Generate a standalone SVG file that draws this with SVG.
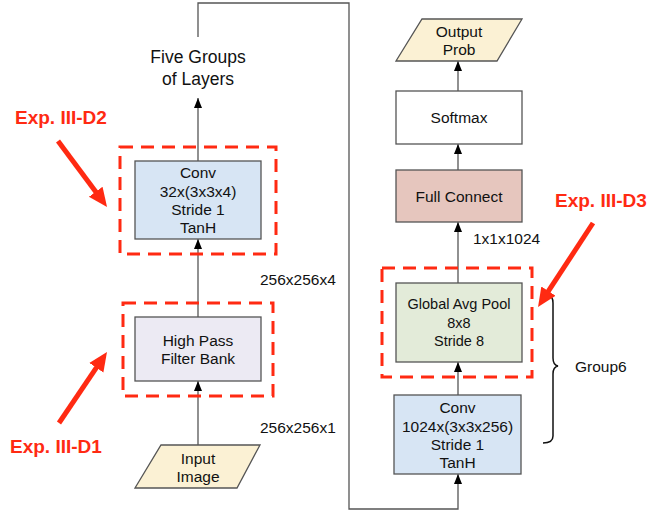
<svg xmlns="http://www.w3.org/2000/svg" width="670" height="512" viewBox="0 0 670 512">
<style>
  .box { stroke: #555; stroke-width: 1.3; }
  .t { font-family: "Liberation Sans", Arial, sans-serif; font-size: 15.5px; fill: #111; text-anchor: middle; }
  .ts { font-family: "Liberation Sans", Arial, sans-serif; font-size: 14.5px; fill: #111; text-anchor: middle; }
  .tl { font-family: "Liberation Sans", Arial, sans-serif; font-size: 15.5px; fill: #111; }
  .big { font-family: "Liberation Sans", Arial, sans-serif; font-size: 17.5px; fill: #111; text-anchor: middle; }
  .red { font-family: "Liberation Sans", Arial, sans-serif; font-size: 19px; font-weight: bold; fill: #ff2a12; }
  .dash { fill: none; stroke: #ff2a12; stroke-width: 3; stroke-dasharray: 13 8; }
  .conn { fill: none; stroke: #555; stroke-width: 1.3; }
  .rarrow { stroke: #ff2a12; stroke-width: 5; fill: none; }
</style>
<defs>
  <marker id="ah" markerUnits="userSpaceOnUse" markerWidth="12" markerHeight="10" viewBox="0 -5 12 10" refX="10" refY="0" orient="auto">
    <path d="M0,-4 L10,0 L0,4 z" fill="#000"/>
  </marker>
  <marker id="rah" markerUnits="userSpaceOnUse" markerWidth="22" markerHeight="22" viewBox="0 -11 22 22" refX="1" refY="0" orient="auto">
    <path d="M0,-8.5 L19,0 L0,8.5 z" fill="#ff2a12"/>
  </marker>
</defs>

<g id="connectors">
  <line class="conn" x1="198" y1="161" x2="198" y2="98" marker-end="url(#ah)"/>
  <line class="conn" x1="198" y1="317" x2="198" y2="239" marker-end="url(#ah)"/>
  <line class="conn" x1="198" y1="445" x2="198" y2="381" marker-end="url(#ah)"/>
  <polyline class="conn" points="198,37 198,3 349,3 349,509 458,509 458,474" marker-end="url(#ah)"/>
  <line class="conn" x1="458" y1="395" x2="458" y2="362" marker-end="url(#ah)"/>
  <line class="conn" x1="458" y1="283" x2="458" y2="222" marker-end="url(#ah)"/>
  <line class="conn" x1="458" y1="170" x2="458" y2="144" marker-end="url(#ah)"/>
  <line class="conn" x1="458" y1="91" x2="458" y2="61" marker-end="url(#ah)"/>
</g>

<g id="five-groups">
  <text class="big" x="198" y="63">Five Groups</text>
  <text class="big" x="198" y="85">of Layers</text>
</g>

<g id="conv1">
  <rect class="box" x="135" y="161" width="126" height="78" fill="#d7e5f4"/>
  <text class="t" x="198" y="178">Conv</text>
  <text class="t" x="198" y="197">32x(3x3x4)</text>
  <text class="t" x="198" y="215">Stride 1</text>
  <text class="t" x="198" y="233">TanH</text>
</g>

<g id="hpf">
  <rect class="box" x="135" y="317" width="126" height="64" fill="#eceaf3"/>
  <text class="t" x="198" y="346">High Pass</text>
  <text class="t" x="198" y="364">Filter Bank</text>
</g>

<g id="input">
  <polygon class="box" points="161,445 260,445 237,488 135,488" fill="#fbf1d4"/>
  <text class="t" x="198" y="464">Input</text>
  <text class="t" x="198" y="482">Image</text>
</g>

<g id="labels-left">
  <text class="tl" x="260" y="285">256x256x4</text>
  <text class="tl" x="260" y="433">256x256x1</text>
</g>

<g id="output">
  <polygon class="box" points="422,19 522,19 497,61 396,61" fill="#fbf1d4"/>
  <text class="t" x="459" y="37">Output</text>
  <text class="t" x="459" y="55">Prob</text>
</g>

<g id="softmax">
  <rect class="box" x="396" y="91" width="126" height="53" fill="#ffffff"/>
  <text class="t" x="459" y="123">Softmax</text>
</g>

<g id="fc">
  <rect class="box" x="396" y="170" width="126" height="52" fill="#e6c6be"/>
  <text class="t" x="459" y="202">Full Connect</text>
</g>

<g id="fc-label">
  <text class="tl" x="473" y="244">1x1x1024</text>
</g>

<g id="gap">
  <rect class="box" x="396" y="283" width="126" height="79" fill="#e3ebd9"/>
  <text class="ts" x="459" y="309">Global Avg Pool</text>
  <text class="ts" x="459" y="328">8x8</text>
  <text class="ts" x="459" y="346">Stride 8</text>
</g>

<g id="conv6">
  <rect class="box" x="394" y="395" width="127" height="79" fill="#d7e5f4"/>
  <text class="t" x="457.5" y="413">Conv</text>
  <text class="t" x="457.5" y="432">1024x(3x3x256)</text>
  <text class="t" x="457.5" y="450">Stride 1</text>
  <text class="t" x="457.5" y="468">TanH</text>
</g>

<g id="group6">
  <path d="M548,295 Q553,296 553,303 L553,358 Q553,365 558,366 Q553,367 553,374 L553,436 Q553,443 543,443" fill="none" stroke="#111" stroke-width="1.5"/>
  <text class="tl" x="575" y="372">Group6</text>
</g>

<g id="exp-d2">
  <rect class="dash" x="120" y="147" width="156" height="107"/>
  <text class="red" x="15" y="124">Exp. III-D2</text>
  <line class="rarrow" x1="58" y1="141" x2="96.3" y2="192.5" marker-end="url(#rah)"/>
</g>

<g id="exp-d1">
  <rect class="dash" x="123" y="303" width="150" height="93"/>
  <text class="red" x="10" y="453">Exp. III-D1</text>
  <line class="rarrow" x1="59" y1="423" x2="96.9" y2="366.9" marker-end="url(#rah)"/>
</g>

<g id="exp-d3">
  <rect class="dash" x="382" y="268" width="150" height="109"/>
  <text class="red" x="555" y="207">Exp. III-D3</text>
  <line class="rarrow" x1="593" y1="223" x2="547.9" y2="291.9" marker-end="url(#rah)"/>
</g>
</svg>
